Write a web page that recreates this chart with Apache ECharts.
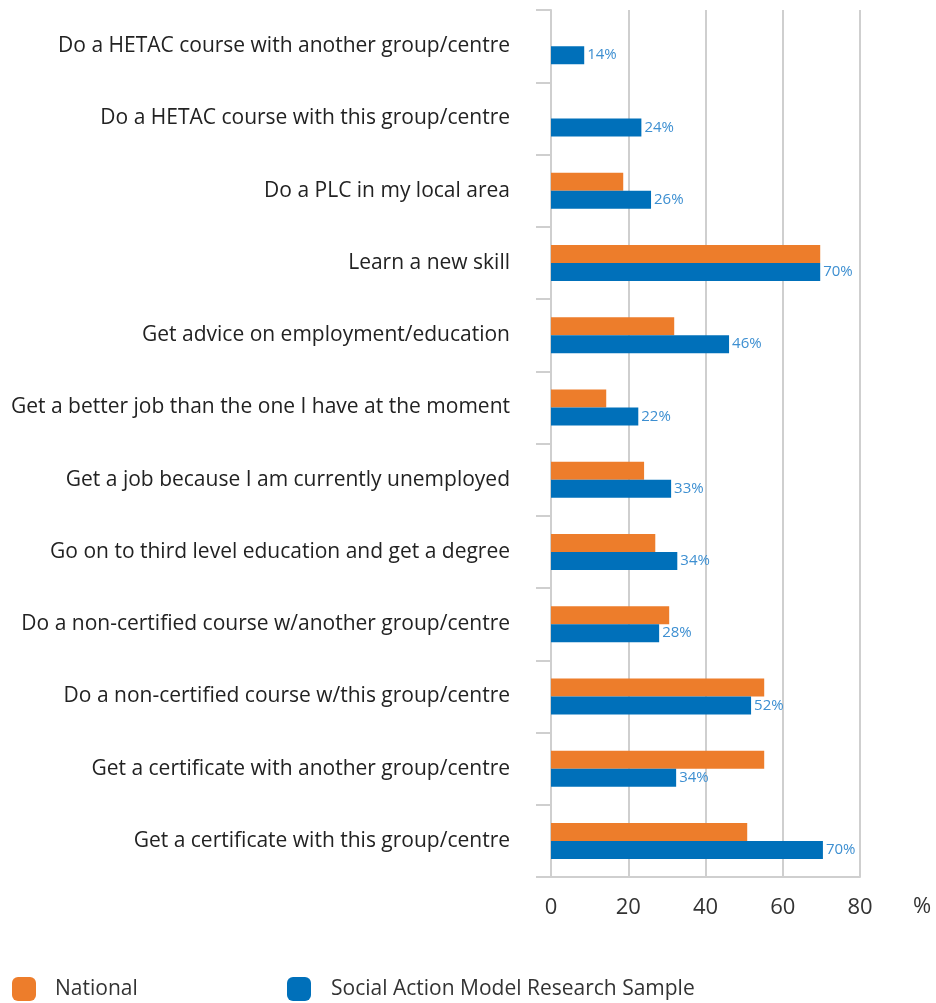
<!DOCTYPE html>
<html>
<head>
<meta charset="utf-8">
<script src="https://cdn.jsdelivr.net/npm/echarts@6/dist/echarts.min.js"></script>
<style>
  html, body { margin: 0; padding: 0; background: #fff; }
  #chart { width: 936px; height: 1003px; }
</style>
</head>
<body>
<div id="chart"></div>
<script>
// categories, top to bottom
const categories = [
  'Do a HETAC course with another group/centre',
  'Do a HETAC course with this group/centre',
  'Do a PLC in my local area',
  'Learn a new skill',
  'Get advice on employment/education',
  'Get a better job than the one I have at the moment',
  'Get a job because I am currently unemployed',
  'Go on to third level education and get a degree',
  'Do a non-certified course w/another group/centre',
  'Do a non-certified course w/this group/centre',
  'Get a certificate with another group/centre',
  'Get a certificate with this group/centre'
]

// National (orange), bar lengths
const nationalValues = [0, 0, 18.7, 69.7, 31.9, 14.3, 24.1, 27.0, 30.6, 55.2, 55.2, 50.8]

// Social Action Model sample (blue), bar lengths
const sampleValues = [8.6, 23.4, 25.9, 69.7, 46.1, 22.6, 31.1, 32.7, 28.0, 51.8, 32.4, 70.4]
// printed labels next to the blue bars
const sampleLabels = ['14%', '24%', '26%', '70%', '46%', '22%', '33%', '34%', '28%', '52%', '34%', '70%']

const xTicks = [0, 20, 40, 60, 80]

const seriesNames = ['National', 'Social Action Model Research Sample']
const colors = ['#ed7d2b', '#0070ba']
const fontFamily = '"Open Sans", Lato, sans-serif'

const chart = echarts.init(document.getElementById('chart'))

const legendBase = {
  top: 977,
  padding: 0,
  icon: 'roundRect',
  itemWidth: 24,
  itemHeight: 24,
  selectedMode: false
}

const option = {
  animation: false,
  textStyle: { fontFamily: fontFamily },
  grid: {
    left: 551,
    right: 76,
    top: 10,
    bottom: 126,
    containLabel: false
  },
  legend: [
    Object.assign({}, legendBase, {
      data: [seriesNames[0]],
      left: 12,
      textStyle: { fontSize: 21, color: '#333', fontFamily: fontFamily, padding: [0, 0, 0, 14] }
    }),
    Object.assign({}, legendBase, {
      data: [seriesNames[1]],
      left: 287,
      textStyle: { fontSize: 21, color: '#333', fontFamily: fontFamily, padding: [0, 0, 0, 15] }
    })
  ],
  graphic: [
    {
      type: 'text',
      left: 913,
      top: 896,
      style: { text: '%', fontSize: 22, fill: '#333', fontFamily: fontFamily }
    }
  ],
  xAxis: {
    type: 'value',
    min: xTicks[0],
    max: xTicks[xTicks.length - 1],
    interval: 20,
    axisLine: { show: true, lineStyle: { color: '#cfcfcf', width: 2 } },
    axisTick: { show: false },
    axisLabel: { fontSize: 22, color: '#333', margin: 20, fontFamily: fontFamily },
    splitLine: { show: true, lineStyle: { color: '#cfcfcf', width: 2 } }
  },
  yAxis: {
    type: 'category',
    data: categories,
    inverse: true,
    axisLine: { show: true, lineStyle: { color: '#cfcfcf', width: 2 } },
    axisTick: { show: true, length: 15, lineStyle: { color: '#cfcfcf', width: 2 } },
    axisLabel: { fontSize: 21, color: '#222', margin: 41, fontFamily: fontFamily },
    splitLine: { show: false }
  },
  series: [
    {
      name: seriesNames[0],
      type: 'bar',
      data: nationalValues,
      barWidth: 18,
      barGap: '0%',
      itemStyle: { color: colors[0] }
    },
    {
      name: seriesNames[1],
      type: 'bar',
      data: sampleValues,
      barWidth: 18,
      barGap: '0%',
      itemStyle: { color: colors[1] },
      label: {
        show: true,
        position: 'right',
        distance: 3,
        fontSize: 15,
        color: '#3d8fd1',
        fontFamily: fontFamily,
        formatter: p => sampleLabels[p.dataIndex]
      }
    }
  ]
}

chart.setOption(option)
</script>
</body>
</html>
